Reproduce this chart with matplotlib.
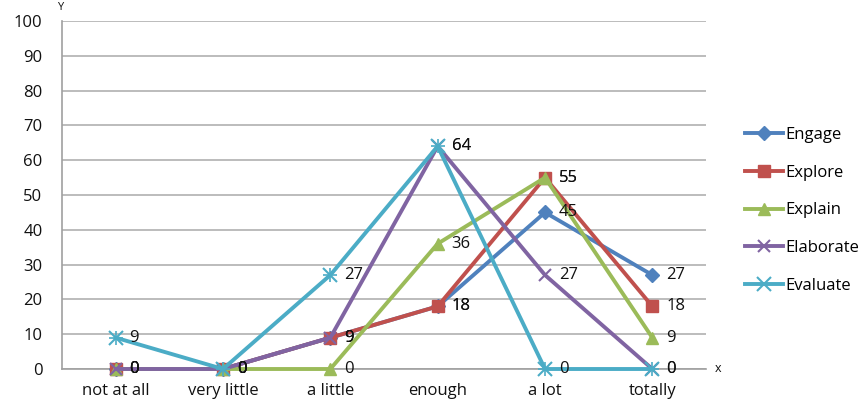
import matplotlib.pyplot as plt
import numpy as np

categories = ["not at all", "very little", "a little", "enough", "a lot", "totally"]
engage = [0, 0, 9, 18, 45, 27]
explore = [0, 0, 9, 18, 55, 18]
explain = [0, 0, 0, 36, 55, 9]
elaborate = [0, 0, 9, 64, 27, 0]
evaluate = [9, 0, 27, 64, 0, 0]

series = [
    ("Engage", engage, "#4F81BD", "D", 7),
    ("Explore", explore, "#C0504D", "s", 9),
    ("Explain", explain, "#9BBB59", "^", 9),
    ("Elaborate", elaborate, "#8064A2", "x", 9),
    ("Evaluate", evaluate, "#4BACC6", "x", 10),
]

plt.rcParams['font.family'] = ['Open Sans', 'DejaVu Sans']

fig = plt.figure(figsize=(8.63, 4.08), dpi=100)
ax = fig.add_axes([62 / 863, 1 - 369 / 408, (706 - 62) / 863, (369 - 21) / 408])

x = np.arange(len(categories))
for name, vals, col, mk, ms in series:
    ax.plot(x, vals, color=col, lw=2.8, marker=mk, ms=ms, mew=1.5 if mk == "x" else 1,
            label=name, clip_on=False, zorder=3)
    if name == "Evaluate":
        # star-like marker: add a plus on top of the x
        ax.plot(x, vals, ls="none", marker="+", ms=ms, mew=1.2, color=col, clip_on=False, zorder=3)
    for xi, v in zip(x, vals):
        ax.annotate(str(v), (xi, v), xytext=(10, 0), textcoords="offset points",
                    ha="left", va="center", fontsize=12, color="#111111", zorder=4)

ax.set_xlim(-0.5, len(categories) - 0.5)
ax.set_ylim(0, 100)
ax.set_yticks(range(0, 101, 10))
ax.set_xticks(x)
ax.set_xticklabels(categories)
ax.tick_params(axis="both", length=0, labelsize=12, colors="#111111")
ax.tick_params(axis="y", pad=14)
ax.tick_params(axis="x", pad=10)
ax.grid(axis="y", color="#b0b0b0", lw=1.2)
ax.set_axisbelow(True)
for s in ["top", "right"]:
    ax.spines[s].set_visible(False)
ax.spines["left"].set_color("#a0a0a0")
ax.spines["bottom"].set_color("#a0a0a0")
ax.spines["left"].set_linewidth(1.2)
ax.spines["bottom"].set_linewidth(1.2)

fig.text(60 / 863, 1 - 8 / 408, "Y", fontsize=8, ha="center", va="center", color="#111111")
fig.text(718 / 863, 1 - 369 / 408, "x", fontsize=9, ha="center", va="center", color="#111111")

handles, labels = ax.get_legend_handles_labels()
handles = [handles[i] for i in range(0, len(handles)) if labels[i] in [s[0] for s in series]]
leg = fig.legend(handles[:5], [s[0] for s in series], loc="upper left",
                 bbox_to_anchor=(730 / 863, 1 - 112 / 408), frameon=False, fontsize=12,
                 labelspacing=1.3, handlelength=2.3, handletextpad=0.1)

fig.savefig("out.png", dpi=100)
